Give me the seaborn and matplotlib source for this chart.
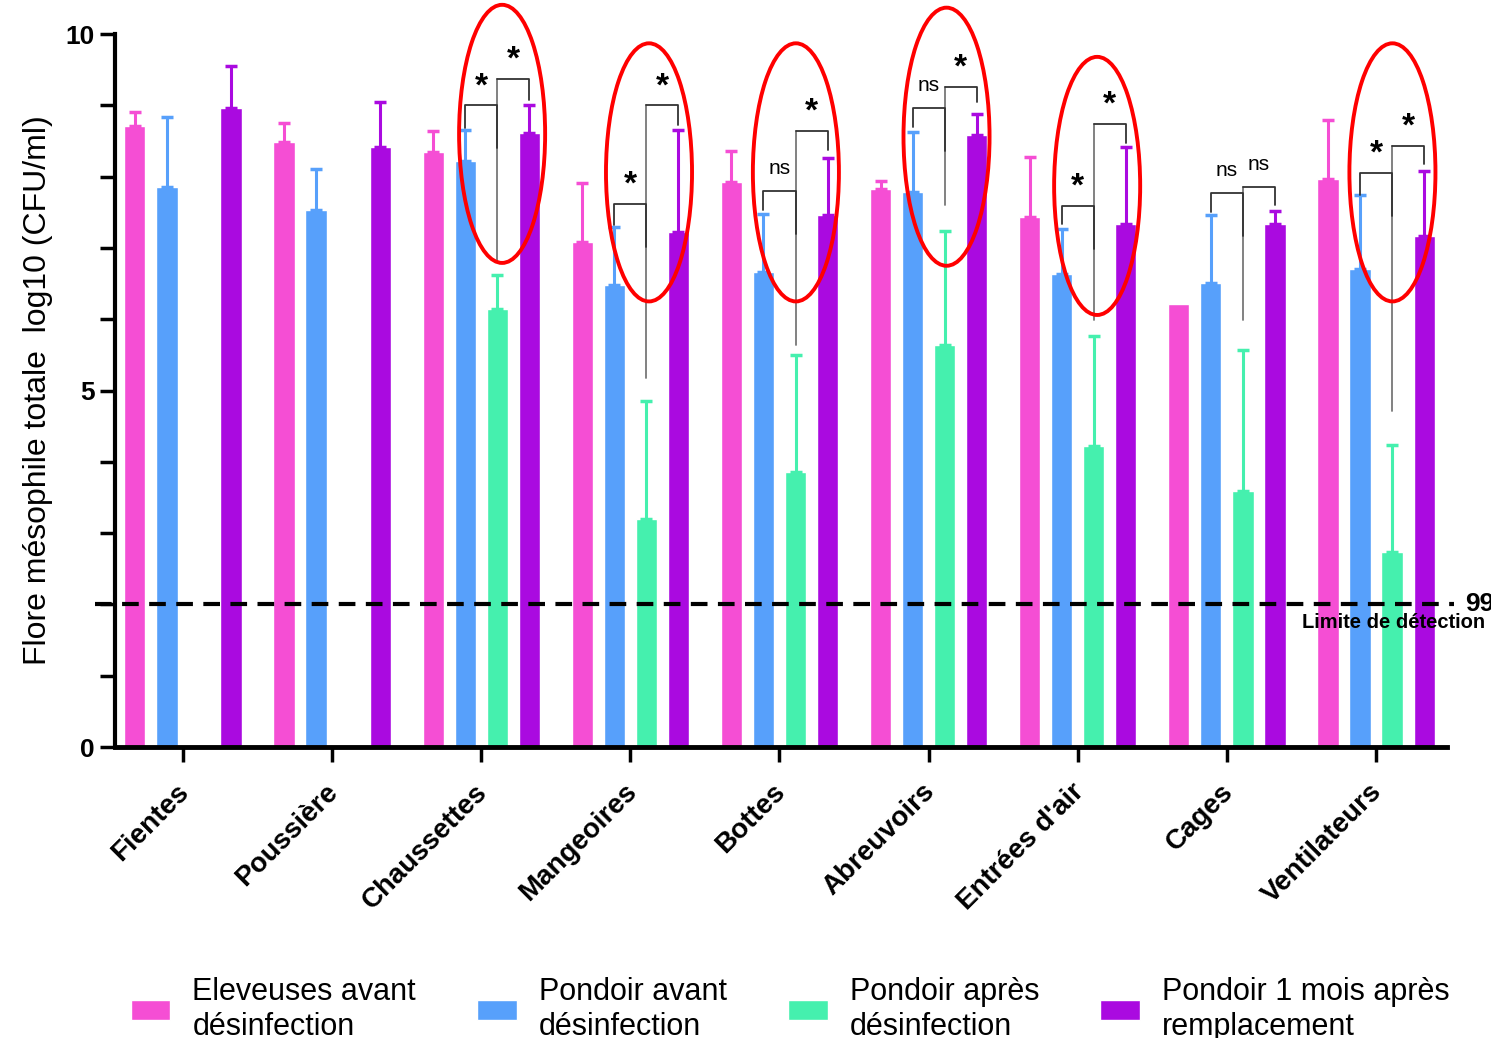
import matplotlib
matplotlib.use('Agg')
import matplotlib.pyplot as plt
from matplotlib.patches import Ellipse
import seaborn as sns
import pandas as pd
import numpy as np

sites = ['Fientes', 'Poussière', 'Chaussettes', 'Mangeoires', 'Bottes',
         'Abreuvoirs', "Entrées d'air", 'Cages', 'Ventilateurs']
groupes = ['Eleveuses avant\ndésinfection', 'Pondoir avant\ndésinfection',
           'Pondoir après\ndésinfection', 'Pondoir 1 mois après\nremplacement']
couleurs = ['#F54ED4', '#57A0FB', '#45F0AE', '#AA0AE0']

# moyennes log10 (nan = pas de mesure)
eleveuses = [8.71, 8.49, 8.35, 7.09, 7.92, 7.83, 7.43, 6.22, 7.96]
pondoir_avant = [7.85, 7.53, 8.22, 6.48, 6.66, 7.79, 6.63, 6.51, 6.70]
pondoir_apres = [np.nan, np.nan, 6.14, 3.20, 3.86, 5.64, 4.22, 3.59, 2.73]
pondoir_1mois = [8.96, 8.42, 8.61, 7.23, 7.46, 8.58, 7.33, 7.34, 7.17]

# barres d'erreur (haut seulement)
err_eleveuses = [0.19, 0.26, 0.29, 0.82, 0.44, 0.11, 0.84, np.nan, 0.83]
err_pondoir_avant = [0.99, 0.58, 0.43, 0.82, 0.81, 0.84, 0.63, 0.95, 1.04]
err_pondoir_apres = [np.nan, np.nan, 0.48, 1.65, 1.64, 1.60, 1.55, 1.98, 1.51]
err_pondoir_1mois = [0.59, 0.63, 0.39, 1.42, 0.80, 0.30, 1.08, 0.18, 0.91]

# comparaisons: site, texte gauche, y gauche, chute bleue, texte droit, y droit, chute violette, bas trait central
comparaisons = [
    (2, '*', 9.00, 8.68, '*', 9.37, 9.07, 6.80),
    (3, '*', 7.62, 7.32, '*', 9.00, 8.72, 5.18),
    (4, 'ns', 7.80, 7.53, '*', 8.64, 8.37, 5.64),
    (5, 'ns', 8.96, 8.70, '*', 9.26, 9.05, 7.60),
    (6, '*', 7.59, 7.33, '*', 8.74, 8.47, 5.99),
    (7, 'ns', 7.77, 7.50, 'ns', 7.85, 7.60, 5.99),
    (8, '*', 8.05, 7.74, '*', 8.43, 8.18, 4.71),
]
# ellipses rouges: centre x, centre y
ellipses = [(2.14, 8.60), (3.125, 8.06), (4.11, 8.06), (5.12, 8.56), (6.13, 7.87), (8.11, 8.06)]

limite = 2.0

series = [eleveuses, pondoir_avant, pondoir_apres, pondoir_1mois]
erreurs = [err_eleveuses, err_pondoir_avant, err_pondoir_apres, err_pondoir_1mois]

rows = []
for g, vals in zip(groupes, series):
    for s, v in zip(sites, vals):
        rows.append({'site': s, 'groupe': g, 'valeur': v})
df = pd.DataFrame(rows).dropna()

sns.set_style('ticks', {'axes.edgecolor': 'black', 'text.color': 'black',
                        'xtick.color': 'black', 'ytick.color': 'black',
                        'axes.labelcolor': 'black'})
plt.rcParams['font.family'] = ['Liberation Sans', 'DejaVu Sans']

fig = plt.figure(figsize=(14.91, 10.38), dpi=100)
ax = fig.add_axes([0.0771, 0.2803, 0.8934, 0.6869])

sns.barplot(data=df, x='site', y='valeur', hue='groupe', order=sites, hue_order=groupes,
            palette=couleurs, saturation=1, width=0.86, gap=0.34, errorbar=None, ax=ax)

for cont, err, col in zip(ax.containers, erreurs, couleurs):
    for bar in cont:
        x = bar.get_x() + bar.get_width() / 2
        h = bar.get_height()
        e = err[int(round(x))]
        if np.isnan(e) or np.isnan(h):
            continue
        ax.errorbar(x, h, yerr=[[0], [e]], color=col, elinewidth=2.2, capsize=4.5,
                    capthick=2.5, zorder=3)

slot = 0.86 / 4
for i, tg, yg, dg, td, yd, dd, bas in comparaisons:
    xb, xv, xp = i - slot / 2, i + slot / 2, i + 1.5 * slot
    ax.plot([xv, xv], [yd, bas], color='#777777', lw=1.3, zorder=4)
    ax.plot([xb, xb, xv, xv], [dg, yg, yg, yg - 0.6], color='#333333', lw=1.3, zorder=4)
    ax.plot([xv, xp, xp], [yd, yd, dd], color='#333333', lw=1.3, zorder=4)
    for txt, xm, ym in [(tg, (xb + xv) / 2, yg), (td, (xv + xp) / 2, yd)]:
        if txt == '*':
            ax.text(xm, ym + 0.26, txt, ha='center', va='center', fontsize=24, fontweight='bold')
        else:
            ax.text(xm, ym + 0.32, txt, ha='center', va='center', fontsize=15)

for xc, yc in ellipses:
    ax.add_patch(Ellipse((xc, yc), 0.577, 3.62, fill=False, edgecolor='#FF0000', lw=2.8,
                         zorder=5, clip_on=False))

ax.plot([-0.59, 8.52], [limite, limite], color='black', lw=3, ls=(0, (4, 2.5)),
        clip_on=False, zorder=4)
ax.text(8.6, limite, '99', ha='left', va='center', fontsize=19, fontweight='bold')
ax.text(8.73, limite - 0.26, 'Limite de détection', ha='right', va='center',
        fontsize=14.5, fontweight='bold', fontstretch='condensed',
        family=['Liberation Sans Narrow', 'Liberation Sans'])

ax.set_xlim(-0.456, 8.476)
ax.set_ylim(0, 10)
ax.set_yticks([0, 5, 10])
ax.set_yticks([1, 2, 3, 4, 6, 7, 8, 9], minor=True)
ax.set_yticklabels(['0', '5', '10'], fontsize=19, fontweight='bold')
ax.set_xticks(range(len(sites)))
ax.set_xticklabels(sites, rotation=45, ha='right', va='center_baseline', rotation_mode='anchor',
                   fontsize=20, fontweight='bold')
ax.tick_params(axis='both', which='both', direction='out', length=11, width=2.5, color='black')
ax.tick_params(axis='x', pad=17)
ax.set_xlabel('')
ax.set_ylabel('Flore mésophile totale  log10 (CFU/ml)', fontsize=23, labelpad=9)
sns.despine(ax=ax)
ax.spines['left'].set_linewidth(3)
ax.spines['bottom'].set_linewidth(3.5)

handles, labels = ax.get_legend_handles_labels()
ax.get_legend().remove()
fig.legend(handles, labels, loc='lower center', bbox_to_anchor=(0.530, -0.030), ncol=4,
           frameon=False, fontsize=22, handlelength=1.3, handleheight=0.62,
           columnspacing=2.0, handletextpad=0.72, labelspacing=0.2)

fig.savefig('out.png', dpi=100)
